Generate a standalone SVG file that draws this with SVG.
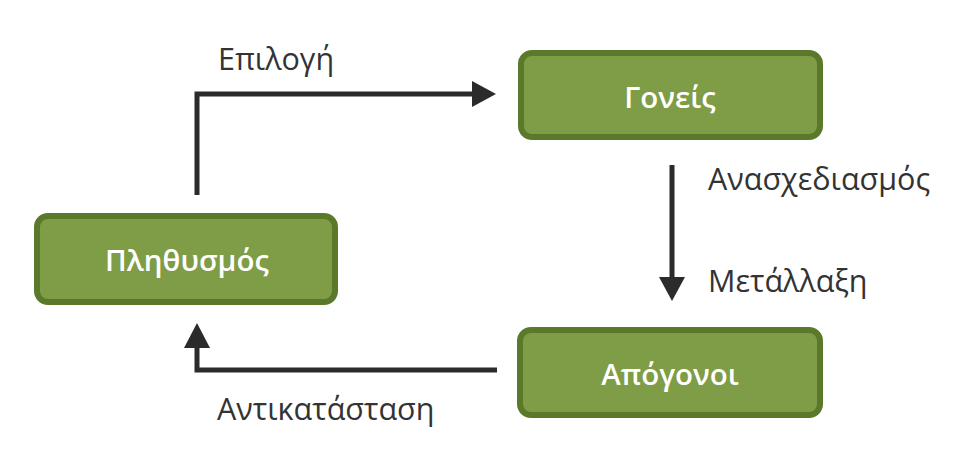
<svg xmlns="http://www.w3.org/2000/svg" width="953" height="450" viewBox="0 0 953 450">
  <style>
    .box { fill: #7f9c46; stroke: #5a792b; stroke-width: 6; }
    .boxtext { fill: #ffffff; font-family: "Open Sans", "Noto Sans", sans-serif; font-weight: 600; font-size: 29.5px; text-anchor: middle; }
    .label { fill: #333333; font-family: "Open Sans", "Noto Sans", sans-serif; font-size: 30.5px; }
    .conn { fill: none; stroke: #2b2b2b; stroke-width: 5; }
    .head { fill: #2b2b2b; }
  </style>
  <rect width="953" height="450" fill="#ffffff"/>

  <g id="connectors">
    <!-- selection: population -> parents -->
    <polyline class="conn" points="197,195 197,94 474,94"/>
    <polygon class="head" points="472,81 496,94 472,107"/>
    <!-- recombination / mutation: parents -> offspring -->
    <line class="conn" x1="672" y1="165" x2="672" y2="279"/>
    <polygon class="head" points="659,277 685,277 672,301"/>
    <!-- replacement: offspring -> population -->
    <polyline class="conn" points="497,370 197,370 197,346"/>
    <polygon class="head" points="184,348 210,348 197,323"/>
  </g>

  <g id="labels">
    <text class="label" x="218" y="70">Επιλογή</text>
    <text class="label" x="708" y="190">Ανασχεδιασμός</text>
    <text class="label" x="708" y="292">Μετάλλαξη</text>
    <text class="label" x="217" y="420">Αντικατάσταση</text>
  </g>

  <g id="population">
    <rect class="box" x="37" y="216" width="298" height="86" rx="11"/>
    <text class="boxtext" x="187" y="271">Πληθυσμός</text>
  </g>

  <g id="parents">
    <rect class="box" x="521" y="53" width="299" height="84" rx="11"/>
    <text class="boxtext" x="670" y="108">Γονείς</text>
  </g>

  <g id="offspring">
    <rect class="box" x="520" y="330" width="300" height="85" rx="11"/>
    <text class="boxtext" x="670" y="385">Απόγονοι</text>
  </g>
</svg>
